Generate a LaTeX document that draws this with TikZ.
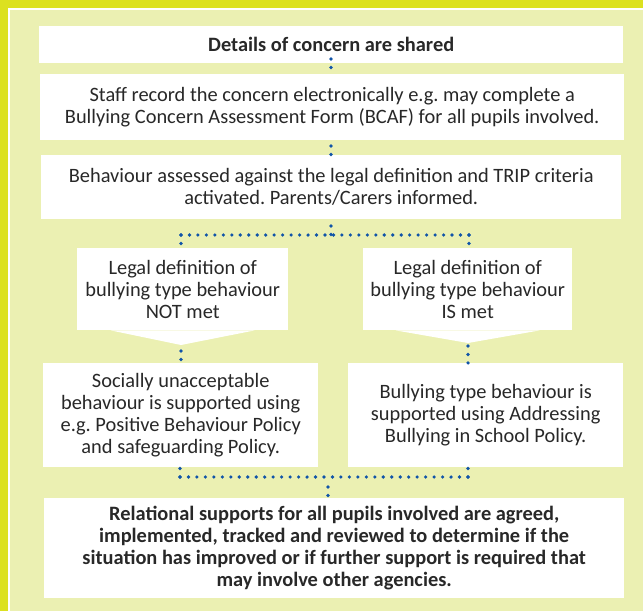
\documentclass[tikz,border=0pt]{standalone}
\usepackage{fontspec}
\setmainfont{Carlito}
\frenchspacing
\begin{document}
\begin{tikzpicture}[x=1pt,y=-1pt,
  box/.style={fill=white, draw=none, inner sep=0pt, align=center, anchor=north west,
    text=txtgray, font=\fontsize{20.4}{22}\selectfont},
  boldbox/.style={box, font=\bfseries\fontsize{20.4}{22}\selectfont},
  dotline/.style={draw=dotblue, line width=3.6pt, line cap=round, dash pattern=on 0pt off 8.47pt}]
\definecolor{frameyellow}{RGB}{220,225,32}
\definecolor{lightbg}{RGB}{235,240,178}
\definecolor{dotblue}{RGB}{16,84,168}
\definecolor{txtgray}{RGB}{40,40,40}
\useasboundingbox (0,0) rectangle (643,611);
\fill[frameyellow] (0,0) rectangle (643,611);
\fill[white] (8,8) rectangle (643,611);
\fill[lightbg] (10,10) rectangle (643,611);

\node[boldbox, minimum width=584, minimum height=37] (b1) at (39,26) {Details of concern are shared};
\node[box, minimum width=584, minimum height=66] (b2) at (40,74) {Staff record the concern electronically e.g. may complete a\\Bullying Concern Assessment Form (BCAF) for all pupils involved.};
\node[box, minimum width=580, minimum height=64] (b3) at (41,155) {Behaviour assessed against the legal definition and TRIP criteria\\activated. Parents/Carers informed.};
\node[box, minimum width=211, minimum height=82] (b4) at (77,248) {Legal definition of\\bullying type behaviour\\NOT met};
\node[box, minimum width=209, minimum height=82] (b5) at (363,248) {Legal definition of\\bullying type behaviour\\IS met};
\fill[white] ([xshift=-72]b4.south) -- (181,345) coordinate (p4) -- ([xshift=72]b4.south) -- cycle;
\fill[white] ([xshift=-72]b5.south) -- (468,343) coordinate (p5) -- ([xshift=72]b5.south) -- cycle;
\node[box, minimum width=275, minimum height=104] (b6) at (43,363) {Socially unacceptable\\behaviour is supported using\\e.g. Positive Behaviour Policy\\and safeguarding Policy.};
\node[box, minimum width=275, minimum height=104] (b7) at (348,363) {Bullying type behaviour is\\supported using Addressing\\Bullying in School Policy.};
\node[boldbox, minimum width=580, minimum height=100] (b8) at (44,498) {Relational supports for all pupils involved are agreed,\\implemented, tracked and reviewed to determine if the\\situation has improved or if further support is required that\\may involve other agencies.};

\coordinate (s1) at (331,235);
\coordinate (s2) at (328,477);
\coordinate (tl) at (181,235);
\coordinate (tr) at (469,235);
\coordinate (ul) at (180,477);
\coordinate (ur) at (468,477);
\draw[dotline] (331,59) -- (331,69);
\draw[dotline] (331,146) -- (331,156);
\draw[dotline] (331,226) -- (331,236);
\draw[dotline] (tl) -- (tr);
\draw[dotline] (tl) -- (181,245);
\draw[dotline] (tr) -- (469,245);
\draw[dotline] (181,351) -- (181,361);
\draw[dotline] (468,346) -- (468,364);
\draw[dotline] (ul) -- (ur);
\draw[dotline] (ul) -- (180,467);
\draw[dotline] (ur) -- (468,467);
\draw[dotline] (328,487) -- (328,497);
\end{tikzpicture}
\end{document}
